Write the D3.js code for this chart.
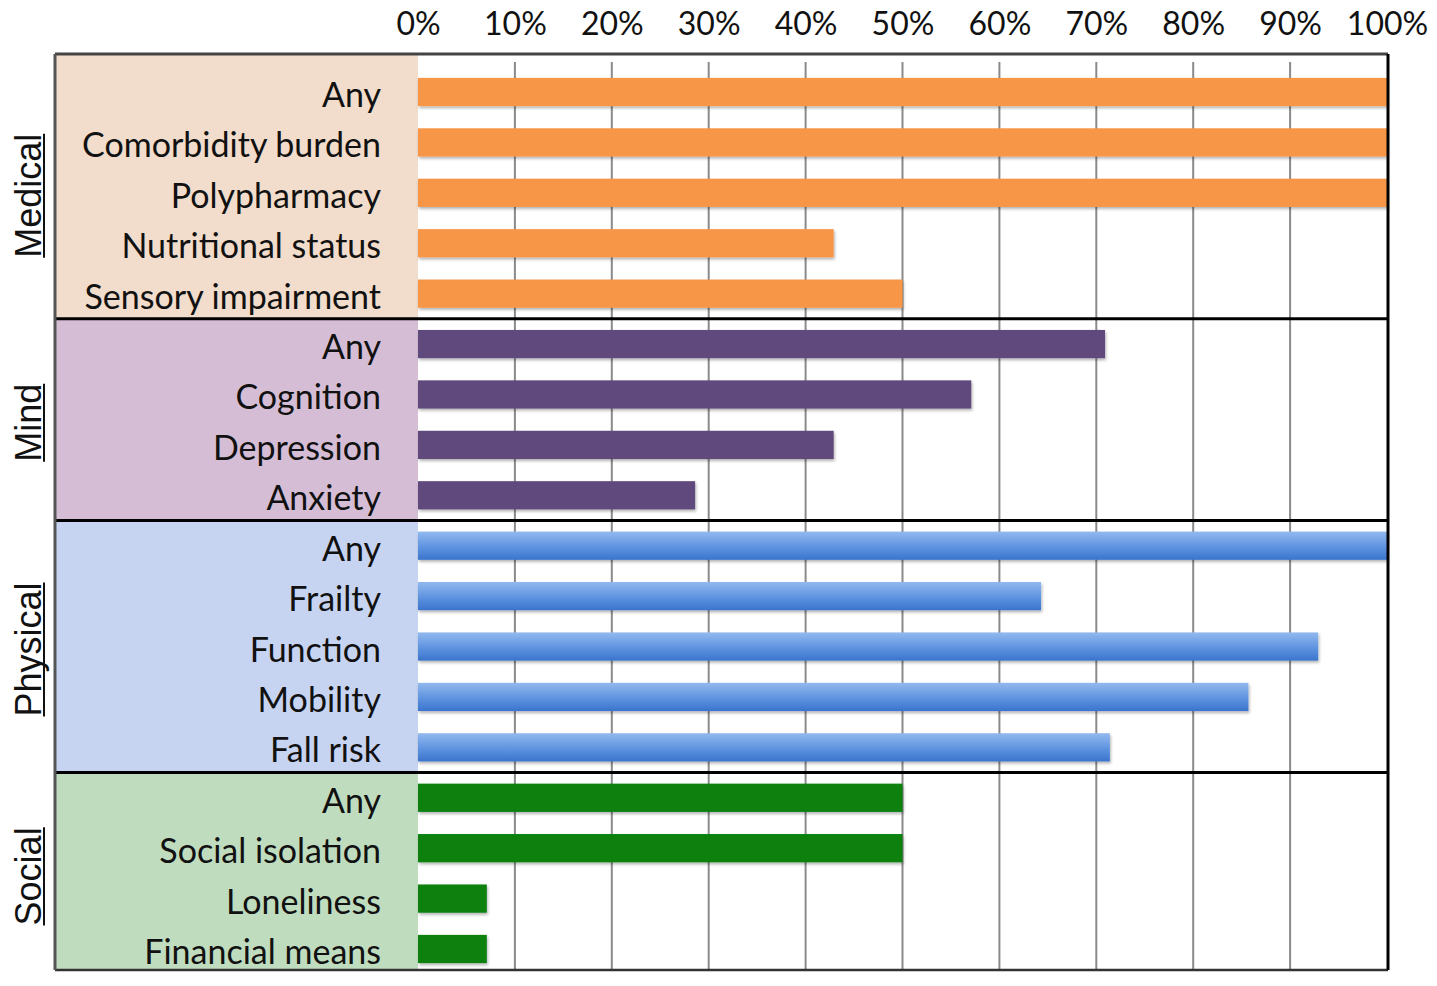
<!DOCTYPE html>
<html>
<head>
<meta charset="utf-8">
<script src="https://cdn.jsdelivr.net/npm/d3@7"></script>
<style>
  html, body { margin: 0; padding: 0; background: #fff; }
  svg { display: block; }
</style>
</head>
<body>
<svg id="chart" width="1437" height="986"></svg>
<script>
// ---- data ----
const groups = ["Medical", "Mind", "Physical", "Social"];
const medicalLabels = ["Any", "Comorbidity burden", "Polypharmacy", "Nutritional status", "Sensory impairment"];
const medicalValues = [1.0, 1.0, 1.0, 0.429, 0.50];
const mindLabels = ["Any", "Cognition", "Depression", "Anxiety"];
const mindValues = [0.709, 0.571, 0.429, 0.286];
const physicalLabels = ["Any", "Frailty", "Function", "Mobility", "Fall risk"];
const physicalValues = [1.0, 0.643, 0.929, 0.857, 0.714];
const socialLabels = ["Any", "Social isolation", "Loneliness", "Financial means"];
const socialValues = [0.50, 0.50, 0.071, 0.071];
const tickValues = [0, 0.1, 0.2, 0.3, 0.4, 0.5, 0.6, 0.7, 0.8, 0.9, 1.0];

// styles
const barColors = { Medical: "#F79646", Mind: "#604A7B", Physical: "url(#blueGrad)", Social: "#07800A" };
const panelColors = { Medical: "#F2DCCB", Mind: "#D5BED5", Physical: "#C7D4F1", Social: "#C0DCBF" };

const groupData = [
  { g: "Medical", labels: medicalLabels, values: medicalValues },
  { g: "Mind", labels: mindLabels, values: mindValues },
  { g: "Physical", labels: physicalLabels, values: physicalValues },
  { g: "Social", labels: socialLabels, values: socialValues }
];
const rows = [];
groupData.forEach(gd => gd.labels.forEach((l, i) => rows.push({ id: gd.g + "|" + l, group: gd.g, label: l, value: gd.values[i] })));

const svg = d3.select("#chart");
const defs = svg.append("defs");
const grad = defs.append("linearGradient").attr("id", "blueGrad").attr("x1", 0).attr("y1", 0).attr("x2", 0).attr("y2", 1);
grad.append("stop").attr("offset", "0%").attr("stop-color", "#92B9EE");
grad.append("stop").attr("offset", "55%").attr("stop-color", "#5E93E0");
grad.append("stop").attr("offset", "100%").attr("stop-color", "#3A74CC");
const sh = defs.append("filter").attr("id", "shadow").attr("x", "-5%").attr("y", "-30%").attr("width", "110%").attr("height", "170%");
sh.append("feDropShadow").attr("dx", 1).attr("dy", 2).attr("stdDeviation", 1.5).attr("flood-color", "#000").attr("flood-opacity", 0.3);

const frameLeft = 55, panelRight = 418, frameRight = 1387, frameTop = 54, frameBottom = 970;
const x = d3.scaleLinear().domain([0, 1]).range([panelRight, frameRight]);
const y = d3.scaleBand().domain(rows.map(r => r.id)).range([66.8, 974.2]).paddingInner(0.44).paddingOuter(0.22);

// group extents
const groupExt = groups.map((g, gi) => {
  const gr = rows.filter(r => r.group === g);
  const y0 = gi === 0 ? frameTop : y(gr[0].id) - y.step() * 0.22;
  const y1 = gi === groups.length - 1 ? frameBottom : y(gr[gr.length - 1].id) + y.bandwidth() + y.step() * 0.22;
  const c = (y(gr[0].id) + y(gr[gr.length - 1].id) + y.bandwidth()) / 2;
  return { g, y0, y1, c };
});

// panels
svg.append("g").selectAll("rect").data(groupExt).join("rect")
  .attr("x", frameLeft).attr("y", d => d.y0).attr("width", panelRight - frameLeft).attr("height", d => d.y1 - d.y0)
  .attr("fill", d => panelColors[d.g]);

// gridlines
svg.append("g").selectAll("line").data(tickValues.slice(1, -1)).join("line")
  .attr("x1", d => x(d)).attr("x2", d => x(d)).attr("y1", frameTop + 8).attr("y2", frameBottom)
  .attr("stroke", "#8a8a8a").attr("stroke-width", 2);

// bars
svg.append("g").selectAll("rect").data(rows).join("rect")
  .attr("x", x(0)).attr("y", d => y(d.id)).attr("width", d => x(d.value) - x(0)).attr("height", y.bandwidth())
  .attr("fill", d => barColors[d.group]).attr("filter", "url(#shadow)");

// row labels
svg.append("g").selectAll("text").data(rows).join("text")
  .attr("x", 381).attr("y", d => y(d.id) + y.bandwidth() / 2 + 15)
  .attr("text-anchor", "end")
  .style("font-family", "Lato, 'Open Sans', sans-serif").style("font-size", "34px").attr("fill", "#111")
  .text(d => d.label);

// separators
svg.append("g").selectAll("line").data(groupExt.slice(1)).join("line")
  .attr("x1", frameLeft).attr("x2", frameRight + 1).attr("y1", d => d.y0).attr("y2", d => d.y0)
  .attr("stroke", "#000").attr("stroke-width", 3);

// frame
svg.append("line").attr("x1", frameLeft).attr("x2", frameRight + 1).attr("y1", frameTop).attr("y2", frameTop).attr("stroke", "#444").attr("stroke-width", 3);
svg.append("line").attr("x1", frameLeft).attr("x2", frameRight + 1).attr("y1", frameBottom).attr("y2", frameBottom).attr("stroke", "#333").attr("stroke-width", 2.5);
svg.append("line").attr("x1", frameLeft).attr("x2", frameLeft).attr("y1", frameTop).attr("y2", frameBottom).attr("stroke", "#555").attr("stroke-width", 3);
svg.append("line").attr("x1", frameRight + 1).attr("x2", frameRight + 1).attr("y1", frameTop).attr("y2", frameBottom).attr("stroke", "#000").attr("stroke-width", 3);

// top axis labels
const axis = d3.axisTop(x).tickValues(tickValues).tickFormat(d3.format(".0%")).tickSize(0).tickPadding(0);
const ax = svg.append("g").attr("transform", "translate(0,35)").call(axis);
ax.select(".domain").remove();
ax.selectAll("text").style("font-family", "Lato, 'Open Sans', sans-serif").style("font-size", "32px").attr("fill", "#111").attr("dy", 0);

// group labels (rotated, underlined)
const gl = svg.append("g").selectAll("g").data(groupExt).join("g")
  .attr("transform", d => `translate(41,${d.c + 3}) rotate(-90)`);
gl.append("text").attr("text-anchor", "middle")
  .style("font-family", "'Liberation Sans', Arial, sans-serif").style("font-size", "36px").attr("fill", "#111")
  .text(d => d.g)
  .each(function () {
    const w = this.getComputedTextLength();
    d3.select(this.parentNode).append("line").attr("x1", -w / 2).attr("x2", w / 2).attr("y1", 3).attr("y2", 3)
      .attr("stroke", "#111").attr("stroke-width", 2);
  });
</script>
</body>
</html>
